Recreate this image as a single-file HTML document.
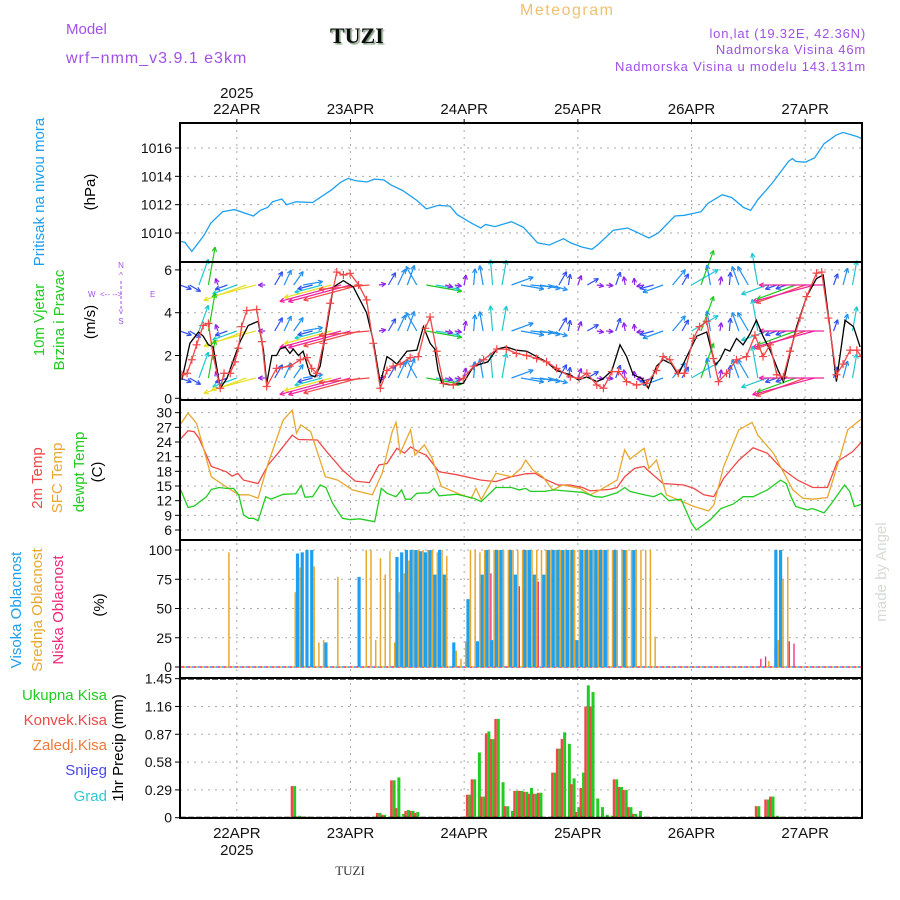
<!DOCTYPE html>
<html><head><meta charset="utf-8"><style>
html,body{margin:0;padding:0;background:#fff;}
svg{display:block;font-family:"Liberation Sans",sans-serif;}
</style></head><body>
<svg id="chart" width="900" height="900" viewBox="0 0 900 900" xmlns="http://www.w3.org/2000/svg">
<defs>
<clipPath id="plotclip"><rect x="181" y="123" width="680" height="696"/></clipPath>
<filter id="sh"><feDropShadow dx="1.5" dy="1.5" stdDeviation="0.6" flood-color="#7a9a7a"/></filter>
</defs>
<g>
<text x="66" y="34" font-size="15" fill="#a050e8">Model</text>
<text x="66" y="63" font-size="16" fill="#a050e8" letter-spacing="1">wrf−nmm_v3.9.1  e3km</text>
<text x="330" y="43" font-size="22" font-weight="bold" font-family="Liberation Serif,serif" fill="#111" filter="url(#sh)">TUZI</text>
<text x="520" y="15" font-size="16" fill="#f0c070" letter-spacing="1.5">Meteogram</text>
<text x="866" y="38" font-size="13" fill="#a050e8" text-anchor="end" letter-spacing="0.8">lon,lat (19.32E, 42.36N)</text>
<text x="866" y="54" font-size="13" fill="#a050e8" text-anchor="end" letter-spacing="0.8">Nadmorska Visina 46m</text>
<text x="866" y="71" font-size="13" fill="#a050e8" text-anchor="end" letter-spacing="0.8">Nadmorska Visina u modelu 143.131m</text>
</g>
<g id="grid"></g>
<g id="marks" clip-path="url(#plotclip)"></g>
<g id="frames"></g>
<g id="axes"></g>
<g font-size="15">
<text transform="translate(44,192) rotate(-90)" text-anchor="middle" fill="#1ea0f0">Pritisak na nivou mora</text>
<text transform="translate(95,192) rotate(-90)" text-anchor="middle" fill="#000">(hPa)</text>
<text transform="translate(44,320) rotate(-90)" text-anchor="middle" fill="#22cc22">10m Vjetar</text>
<text transform="translate(64,320) rotate(-90)" text-anchor="middle" fill="#22cc22">Brzina i Pravac</text>
<text transform="translate(95,322) rotate(-90)" text-anchor="middle" fill="#000">(m/s)</text>
<g fill="#a050e8" font-size="8">
<text x="121" y="268" text-anchor="middle">N</text><text x="121" y="278" text-anchor="middle">^</text>
<text x="88" y="297">W</text><text x="100" y="297">&lt;-- --&gt;</text><text x="150" y="297">E</text>
<text x="121" y="314" text-anchor="middle">v</text><text x="121" y="324" text-anchor="middle">S</text>
<line x1="121" y1="281" x2="121" y2="309" stroke="#a050e8" stroke-dasharray="3,2"/>
</g>
<text transform="translate(42,478) rotate(-90)" text-anchor="middle" fill="#f04848">2m Temp</text>
<text transform="translate(62,478) rotate(-90)" text-anchor="middle" fill="#e8a830">SFC Temp</text>
<text transform="translate(84,472) rotate(-90)" text-anchor="middle" fill="#22cc22">dewpt Temp</text>
<text transform="translate(102,472) rotate(-90)" text-anchor="middle" fill="#000">(C)</text>
<text transform="translate(21,610) rotate(-90)" text-anchor="middle" fill="#1ea0f0">Visoka  Oblacnost</text>
<text transform="translate(42,610) rotate(-90)" text-anchor="middle" fill="#e8a830">Srednja  Oblacnost</text>
<text transform="translate(63,610) rotate(-90)" text-anchor="middle" fill="#f0287a">Niska  Oblacnost</text>
<text transform="translate(104,605) rotate(-90)" text-anchor="middle" fill="#000">(%)</text>
<text transform="translate(886,572) rotate(-90)" text-anchor="middle" fill="#d4dcd4">made by Angel</text>
<text transform="translate(123,748) rotate(-90)" text-anchor="middle" fill="#000">1hr Precip (mm)</text>
<text x="107" y="700" text-anchor="end" fill="#22cc22">Ukupna  Kisa</text>
<text x="107" y="725" text-anchor="end" fill="#f04848">Konvek.Kisa</text>
<text x="107" y="750" text-anchor="end" fill="#f07838">Zaledj.Kisa</text>
<text x="107" y="775" text-anchor="end" fill="#4848f0">Snijeg</text>
<text x="107" y="801" text-anchor="end" fill="#30c8d0">Grad</text>
<text x="350" y="875" font-size="13" font-family="Liberation Serif,serif" fill="#333" text-anchor="middle">TUZI</text>
</g>
</svg>
<script>
// ---- data ----
const dayLabels = ["22APR","23APR","24APR","25APR","26APR","27APR"];
const pressureTicks = [1010,1012,1014,1016];
const windTicks = [0,2,4,6];
const tempTicks = [6,9,12,15,18,21,24,27,30];
const cloudTicks = [0,25,50,75,100];
const precipTicks = [0,0.29,0.58,0.87,1.16,1.45];

const pHours = [0,1,2.5,5,6.5,9,11.5,15.5,17,18.5,19.5,21.5,22.5,24.5,28,32,34,35.5,37,39.5,41,43,44.5,47,50,52,54.5,57,58.5,61.5,63.5,64.5,66.5,70,72.5,75.5,78,81,82.5,85,87,88.5,91.5,94.5,96.5,99,101,104.5,106.5,110,111.5,114.5,116.5,119,120.5,122,125,128.5,129.3,130,132,134,136,138.5,140,143,144];
const pVals = [1009.4,1009.35,1008.7,1009.8,1010.7,1011.5,1011.65,1011.2,1011.6,1011.8,1012.2,1012.4,1012.0,1012.2,1012.15,1013.05,1013.6,1013.85,1013.7,1013.6,1013.8,1013.75,1013.4,1013.0,1012.3,1011.7,1011.95,1011.9,1011.3,1010.7,1010.35,1010.6,1010.45,1010.8,1010.4,1009.3,1009.15,1009.6,1009.3,1009.0,1008.85,1009.25,1010.2,1010.35,1010.05,1009.65,1010.0,1011.2,1011.25,1011.5,1012.1,1012.7,1012.5,1011.8,1011.6,1012.35,1013.5,1015.05,1015.25,1015.05,1015.0,1015.3,1016.3,1016.9,1017.1,1016.8,1016.65];

const wsHours = [0.4,2.1,3.9,4.9,6,7,8.5,9.9,11.3,12.7,14.4,16.5,17.6,18.3,19.4,20.4,21.1,22.2,23.2,23.9,25,26,27.5,28.5,29.6,31,32.4,34.5,36.6,38,39.4,40.8,42.3,43.7,44.7,45.8,47.9,50,51.4,52.8,53.8,54.5,55.3,57,59.8,62,65,66.9,68.9,71,73.2,75.3,77.4,79.5,82.4,84.1,85.9,88,89.4,91.2,92.9,94.3,95.7,97.5,98.9,100.6,102,103.8,105.2,107,109.1,111.2,113,114,115.1,116.1,117.5,118.9,120.3,121.7,123.1,124.6,126.3,127.4,128.8,130.2,132.3,134.4,135.8,137.2,138.6,140.4,142.2,143.6];
const wsVals = [0.86,2.57,3.1,2.9,2.5,2.4,0.47,0.93,1.8,2.65,3.4,3.6,2.26,0.7,2.0,2.0,2.3,2.4,2.1,2.3,2.0,2.2,1.1,1.0,1.5,3.35,5.2,5.5,5.2,4.6,4.0,2.7,0.7,1.95,1.8,1.6,2.2,2.25,3.35,2.57,2.3,1.3,0.7,0.62,0.7,1.5,1.7,2.3,2.4,2.25,2.2,1.95,1.7,1.3,1.1,0.86,1.0,0.78,0.93,1.3,2.5,1.95,1.1,0.93,0.47,1.5,1.8,1.6,1.1,1.95,2.9,3.1,1.55,1.8,2.3,2.2,2.8,2.5,3.0,3.65,2.9,2.25,1.3,0.78,2.1,3.35,4.75,5.6,5.76,3.35,0.78,3.65,3.35,2.4];

const wrHours = [0.4,1.5,2.5,3.5,4.9,6,7,8.5,9.3,10.6,11.6,12.3,13,14.1,16.2,17.3,18.3,20.4,23.2,25.4,26.8,27.8,28.9,30.3,31.7,33.1,34.5,35.9,37.7,39.4,40.8,42.3,43.7,45,46.5,48.6,50.3,51.8,52.8,54.2,55.6,57.7,59.8,62,64.1,66.9,68.9,71,73.2,75.3,77.4,79.5,82.4,84.3,85.9,88,89.4,91.2,92.6,94.3,96.4,98.5,100.6,102,103.4,105.2,106.5,108.4,109.7,111.2,112.6,113.7,115.4,117.5,119.6,121.4,123.1,124.6,126,127.4,128.8,130.9,132.3,134.4,135.5,136.9,138.6,140,141.5,142.9,143.9];
const wrVals = [1.1,1.17,1.8,2.5,3.4,3.5,2.0,0.47,1.17,1.17,1.7,2.34,3.35,4.1,4.15,2.65,0.55,1.4,1.5,1.8,1.9,1.4,1.17,2.57,4.44,5.9,5.76,5.84,5.3,4.6,2.57,0.47,1.3,1.5,1.6,1.9,1.95,3.27,3.8,2.2,0.7,0.62,0.93,1.5,1.8,2.3,2.3,2.1,2.0,1.86,1.7,1.4,1.0,0.93,1.17,0.62,0.47,1.25,1.25,0.78,0.62,0.7,1.3,1.95,1.8,1.17,1.17,2.8,3.35,3.6,1.86,0.78,1.17,1.8,1.95,2.95,1.95,2.5,1.1,1.0,2.2,3.75,4.75,5.85,5.9,3.75,1.1,1.6,2.25,2.25,1.95];

const arrowHours = [0,2,4,6,8,10,12,14,16,18,20,22,24,26,28,30,32,34,36,38,40,42,44,46,48,50,52,54,56,58,60,62,64,66,68,70,72,74,76,78,80,82,84,86,88,90,92,94,96,98,100,102,104,106,108,110,112,114,116,118,120,122,124,126,128,130,132,134,136,138,140,142,144];
const arrowDir = [110,120,20,10,340,250,250,250,255,270,30,25,35,80,255,255,255,255,255,255,265,80,30,25,20,330,100,100,105,100,10,5,350,355,10,70,100,95,100,105,30,10,20,60,100,95,20,350,355,260,255,250,40,30,60,20,350,10,5,340,330,350,250,250,250,250,250,255,270,20,15,10,20];

const tHours = [0,1.7,3,4,6.6,9.8,11,12.2,13.4,16.5,18.6,20.7,23.7,25,29,31,34.3,37,40,42,43.7,45.8,47.4,48.7,50.5,52,54.7,58.4,63.6,66.7,70,73,75,77,79.8,82.4,85,86.6,90.7,92.3,93.9,96,98,99,102,106.4,108.5,110.6,112.7,114.8,118,121,124,127,130.4,133.6,136.7,138.8,142,144];
const t2Vals = [24.5,26.3,26.1,24.8,19,17.9,17,17.6,16.2,15.5,19.3,21.7,25.4,24.5,24.4,22,18.3,16,15.7,19.3,19.6,22.7,21.7,23,21.9,21.3,17.9,17.3,16.2,15.9,16.9,17.5,17.6,16.4,15.2,15.2,14.7,14,14.3,14.7,16.9,18.6,19,18,15.5,15.2,14.5,13.2,12.8,16.6,20.3,22.8,21.7,18.6,16.2,14.7,14.7,20,22,24.1];
const sfcHours = [0,1.7,3.5,6.6,8.7,12.4,14.5,16.5,18.6,21.8,23.7,24.6,25.5,27.6,30.7,33.3,36.4,40.6,42.7,44.8,45.6,46.5,47.4,48.7,49.6,51.6,53.2,55.2,59.4,61.5,62.5,63.6,66.7,70,72,73,74.5,76.6,78.7,80.8,84.5,86.6,88.7,92.3,93.9,95,98,99,100.6,102.7,108.5,111.6,112.7,114.8,118,120.8,122,125.3,129.4,131.5,133.6,136.7,139.3,141,144];
const sfcVals = [27.5,29.9,27.8,16.9,15.5,13.2,13.2,12.5,19.6,28.5,30.5,25.8,27.5,26.1,16.9,16.2,14.2,13.2,17.6,26.1,28,21.7,23.7,26.5,21.3,23.4,20.7,14.9,13.2,12.5,14.5,12.2,17.6,16.9,18.6,20.3,18.3,16.9,14.2,15.2,14.5,13.2,14.2,16.2,22.4,20.5,22.7,18.6,20.3,13.2,10.8,9.9,11.1,19,26.5,28,25.4,21.7,14.2,12.5,12.3,12.6,20.7,26.5,28.8];
const dewHours = [0,1.7,3,5.6,6.6,7.6,8.2,9.8,11.3,12.4,13.4,14.5,15.5,16.5,18.1,19.2,21.8,24.4,25.6,26.4,28,29.6,30.8,32.2,34.3,35.9,37.9,41.1,42.5,43.7,45.6,46.8,47.6,48.7,50,52.6,53.6,54.7,58.4,62,63.6,66.7,70,71.6,73,74,77,79,81.2,85,87.6,89.2,92.3,93.9,95,98,100,101.6,103.2,105.8,108,109,112,114.2,116.8,118.9,121,124,126.8,128,129,130,132.4,133.5,136,137.6,140.3,141.4,142.4,144];
const dewVals = [14.5,10.6,10.9,12.8,14.3,14.5,14.7,14.5,14.5,13.2,9.1,8.4,8.4,7.9,12.8,12.3,13.3,13.4,15.1,12.7,12.8,15.2,14.7,11.5,8.4,8.1,8.3,7.7,14.5,13.5,12.8,14.2,12.3,12.3,13.5,13.6,14.5,13.0,13.3,12.5,11.8,14.7,14.7,14.2,14.5,13.9,13.9,14.2,14.0,13.7,12.8,12.7,13.6,14.7,13.9,13.2,12.8,13.5,12.0,12.3,7.4,6.0,8.1,10.4,11.3,12.8,12.8,14.2,16.2,15.5,12.8,10.8,10.1,10.4,9.5,11.5,15.2,13.9,10.8,11.3];

const cloudHours = [10,24,25,26,27,28,29,30,31,33,38,39,40,41,42,43,44,45,46,47,48,49,50,51,52,53,54,55,56,57,58,59,60,61,62,63,64,65,66,67,68,69,70,71,72,73,74,75,76,77,78,79,80,81,82,83,84,85,86,87,88,89,90,91,92,93,94,95,96,97,98,99,100,122,123,124,125,126,127,128,129];
const highVals = [0,0,97,98,100,100,0,0,21,0,77,0,0,0,0,0,0,0,94,98,100,100,100,99,98,100,79,100,79,0,21,0,0,58,0,22,79,100,23,100,100,0,100,79,0,100,100,79,0,79,100,100,100,100,100,100,23,100,100,100,100,100,100,0,100,0,100,0,100,0,0,0,0,0,0,0,0,100,100,0,0];
const midVals = [98,64,85,0,0,86,21,23,0,77,0,100,100,23,93,79,99,21,64,80,91,100,100,100,100,100,98,100,95,0,14,7,22,100,100,98,100,100,100,100,100,100,100,100,100,100,100,100,100,100,100,100,100,100,100,100,100,100,100,100,100,100,100,100,100,100,100,100,100,100,100,100,26,0,0,5,0,23,75,94,0];
const lowVals = [0,0,11,12,0,0,0,0,0,0,0,0,0,0,0,0,0,0,0,0,22,48,0,0,0,22,0,0,0,0,0,0,0,0,0,71,0,80,0,58,0,74,0,69,66,0,0,73,72,0,79,79,0,0,91,0,92,0,0,84,0,57,0,70,0,0,0,0,0,0,0,0,0,7,9,0,15,15,0,22,20];

const precipHours = [24,25,26,27,42,43,45,46,47,48,49,50,61,62,63,64,65,66,67,68,69,70,71,72,73,74,75,76,79,80,81,82,83,84,85,86,87,88,89,90,91,92,93,94,95,96,97,122,124,125,126];
const totalVals = [0.33,0.02,0.01,0.01,0.05,0.03,0.39,0.42,0.04,0.08,0.07,0.06,0.24,0.40,0.68,0.22,0.90,0.82,1.03,0.37,0.12,0.07,0.28,0.28,0.27,0.31,0.25,0.26,0.47,0.72,0.89,0.77,0.41,0.11,0.47,1.38,1.31,0.20,0.11,0.03,0.02,0.40,0.32,0.29,0.11,0.04,0.07,0.12,0.19,0.22,0.02];
const convVals = [0.33,0.01,0.01,0.01,0.05,0.03,0.39,0.10,0,0.07,0.07,0.05,0.24,0.40,0,0.22,0.88,0.82,1.03,0,0.12,0,0.28,0.28,0.27,0.25,0.25,0.26,0.47,0.72,0.82,0,0.35,0.06,0.31,1.16,1.16,0,0,0,0,0.40,0.32,0.29,0.11,0.04,0,0.12,0.19,0.22,0];

// ---- scales ----
const L=180,R=862,HMAX=144;
const X=h=>L+h*(R-L)/HMAX;
const panels={p:[123,262],w:[262,400],t:[400,540],c:[540,678],r:[678,818]};
const Yp=v=>233-(v-1010)*14.17;
const Yw=v=>398.3-v*21.4;
const Yt=v=>530-(v-6)*4.89;
const Yc=v=>667-v*1.17;
const Yr=v=>817.7-v*95.9;
const NS="http://www.w3.org/2000/svg";
function mk(tag,attrs,parent){const e=document.createElementNS(NS,tag);for(const k in attrs)e.setAttribute(k,attrs[k]);parent.appendChild(e);return e;}
const grid=document.getElementById('grid'),marks=document.getElementById('marks'),frames=document.getElementById('frames'),axes=document.getElementById('axes');

dayLabels.forEach((d,i)=>{const x=X(12+24*i);
  const g=mk('line',{x1:x,x2:x,y1:123,y2:818,stroke:'#aaa','stroke-dasharray':'2,5'},grid);
  
  
  const tt=mk('text',{x:x,y:114,'text-anchor':'middle','font-size':15,fill:'#111'},axes);tt.textContent=d;
  
  
  const tb=mk('text',{x:x,y:838,'text-anchor':'middle','font-size':15,fill:'#111'},axes);tb.textContent=d;
  
  
  mk('line',{x1:x,x2:x,y1:119,y2:124,stroke:'#000'},axes);
});
const y1=mk('text',{x:X(12),y:98,'text-anchor':'middle','font-size':15,fill:'#111'},axes);y1.textContent='2025';


const y2=mk('text',{x:X(12),y:855,'text-anchor':'middle','font-size':15,fill:'#111'},axes);y2.textContent='2025';



function yAxis(ticks,Y,fmt,name){ticks.forEach(v=>{const y=Y(v);
  const gl=mk('line',{x1:L,x2:R,y1:y,y2:y,stroke:'#aaa','stroke-dasharray':'2,5'},grid);
  
  
  mk('line',{x1:L-5,x2:L,y1:y,y2:y,stroke:'#000'},axes);
  const t=mk('text',{x:L-8,y:y+5,'text-anchor':'end','font-size':14,fill:'#111'},axes);t.textContent=fmt(v);
  
  
});}
yAxis(pressureTicks,Yp,v=>v,'pressure');
yAxis(windTicks,Yw,v=>v,'wind');
yAxis(tempTicks,Yt,v=>v,'temp');
yAxis(cloudTicks,Yc,v=>v,'cloud');
yAxis(precipTicks,Yr,v=>v,'precip');

for(const k in panels){const [a,b]=panels[k];
  const f=mk('rect',{x:L,y:a,width:R-L,height:b-a,fill:'none',stroke:'#000','stroke-width':2},frames);
  
  
}

function line(hs,vs,Y,color,name,w){const d=hs.map((h,i)=>(i?'L':'M')+X(h).toFixed(1)+','+Y(vs[i]).toFixed(1)).join('');
  const p=mk('path',{d:d,fill:'none',stroke:color,'stroke-width':w||1.3},marks);
  
  
  return p;}

line(pHours,pVals,Yp,'#1ea0f0','pressure-line');

function speedColor(s){if(s<1)return '#9020e8';if(s<1.5)return '#3050f0';if(s<2.2)return '#2090f0';if(s<3)return '#20c8d0';if(s<3.8)return '#20c820';if(s<4.6)return '#e8e020';if(s<5.4)return '#f04848';return '#f020a0';}
function nearestSpeed(h){let best=0,bd=1e9;wrHours.forEach((x,i)=>{const d=Math.abs(x-h);if(d<bd){bd=d;best=i;}});return wrVals[best];}
const rows=[285,331,378];
rows.forEach((by)=>{arrowHours.forEach((h,i)=>{
  const s=nearestSpeed(h),len=Math.max(7,s*11),a=arrowDir[i]*Math.PI/180;
  const x0=X(h),x1=x0+Math.sin(a)*len,yy1=by-Math.cos(a)*len,c=speedColor(s);
  const g=mk('g',{stroke:c,'stroke-width':1.2,fill:'none'},marks);
  
  
  mk('line',{x1:x0,y1:by,x2:x1,y2:yy1},g);
  const b=a+Math.PI,hl=5;
  [0.45,-0.45].forEach(o=>{mk('line',{x1:x1,y1:yy1,x2:x1+Math.sin(b+o)*hl,y2:yy1-Math.cos(b+o)*hl},g);});
});});

line(wsHours,wsVals,Yw,'#000','wind-speed-black',1.3);
line(wrHours,wrVals,Yw,'#f04848','wind-speed-red',1.3);
wrHours.forEach((h,i)=>{const x=X(h),y=Yw(wrVals[i]);
  const p=mk('path',{d:`M${x-4},${y}h8M${x},${y-4}v8`,stroke:'#f04848','stroke-width':1.2},marks);
  
  
});

line(tHours,t2Vals,Yt,'#f04848','temp-2m-line');
line(sfcHours,sfcVals,Yt,'#e8a830','sfc-temp-line');
line(dewHours,dewVals,Yt,'#22cc22','dewpoint-line');

['#1ea0f0','#e8a830','#f0287a'].forEach((c,k)=>{
  const z=mk('line',{x1:L,x2:R,y1:Yc(0),y2:Yc(0),stroke:c,'stroke-width':1.5,'stroke-dasharray':'2,4','stroke-dashoffset':k*2},marks);
  
  
});
cloudHours.forEach((h,i)=>{const x=X(h);
  if(highVals[i]>0){const r=mk('rect',{x:x-2.5,y:Yc(highVals[i]),width:3.2,height:Yc(0)-Yc(highVals[i]),fill:'#1ea0f0'},marks);
    
    }
  if(midVals[i]>0){const r=mk('rect',{x:x+0.8,y:Yc(midVals[i]),width:1.5,height:Yc(0)-Yc(midVals[i]),fill:'#e8a830'},marks);
    
    }
  if(lowVals[i]>0){const r=mk('rect',{x:x+2.4,y:Yc(lowVals[i]),width:1.3,height:Yc(0)-Yc(lowVals[i]),fill:'#f0287a'},marks);
    
    }
});

precipHours.forEach((h,i)=>{const x=X(h);
  const g=mk('rect',{x:x-0.5,y:Yr(totalVals[i]),width:3,height:Yr(0)-Yr(totalVals[i]),fill:'#22cc22'},marks);
  
  
  if(convVals[i]>0){const r=mk('rect',{x:x-3,y:Yr(convVals[i]),width:2.5,height:Yr(0)-Yr(convVals[i]),fill:'#f04848'},marks);
    
    }
});
[Yr(0),Yr(1.45)].forEach(y=>{const l=mk('line',{x1:L,x2:R,y1:y,y2:y,stroke:'#000','stroke-width':2,'stroke-dasharray':'6,2'},frames);
  
  });
</script>
</body></html>
